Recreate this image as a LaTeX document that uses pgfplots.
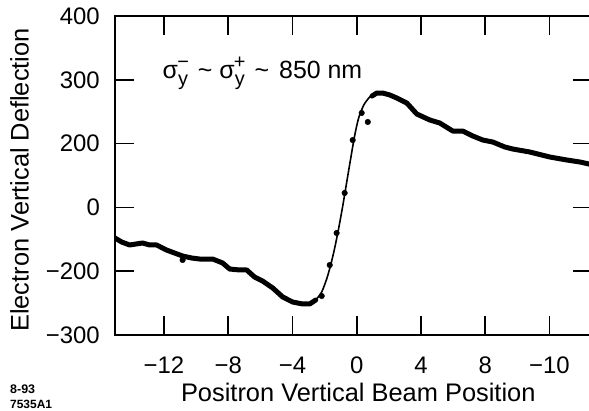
\documentclass[border=0pt]{standalone}
\usepackage{pgfplots}
\pgfplotsset{compat=1.18}
\usepackage{fontspec}
\setmainfont{Liberation Sans}
\newcommand\sy[1]{σ\raisebox{-7bp}{\fontsize{20}{20}\selectfont y}\llap{\raisebox{10bp}{\fontsize{20}{20}\selectfont\makebox[10bp]{#1}}}}
\begin{document}
\begin{tikzpicture}
\begin{axis}[
  scale only axis=true,
  width=477bp, height=319bp,
  xmin=-15.05, xmax=14.65,
  ymin=-100, ymax=400,
  axis line style={line width=1.6bp},
  every tick/.style={black, line width=1.6bp},
  tick align=inside,
  major tick length=19bp,
  xtick={-12,-8,-4,0,4,8,12},
  xticklabels={−12,−8,−4,0,4,8,−10},
  ytick={400,300,200,100,0,-100},
  yticklabels={400,300,200,0,−200,−300},
  xticklabel style={anchor=base, yshift=-38bp, font=\fontsize{24}{26}\selectfont},
  yticklabel style={anchor=east, inner sep=0pt, xshift=-15bp, font=\fontsize{24}{26}\selectfont},
  xlabel={Positron Vertical Beam Position},
  ylabel={Electron Vertical Deflection},
  xlabel style={at={(axis description cs:0.51,-0.21)}, anchor=base, font=\fontsize{25.5}{27}\selectfont},
  ylabel style={at={(axis description cs:-0.2,0.486)}, anchor=center, font=\fontsize{25.5}{27}\selectfont},
]
% data trace, left part
\addplot[black, line width=5bp, line join=round, line cap=round] coordinates {
(-15.05,52.0) (-14.64,45.8) (-14.14,41.1) (-13.33,44.2) (-12.90,41.1) (-12.46,41.1)
(-11.84,33.2) (-11.34,28.5) (-10.84,23.8) (-10.28,20.7) (-9.78,19.1) (-8.97,19.1)
(-8.35,12.9) (-7.91,3.4) (-7.29,1.9) (-6.85,1.9) (-6.36,-9.1) (-5.86,-15.4)
(-5.23,-26.3) (-4.61,-40.4) (-3.99,-48.3) (-3.36,-51.4) (-2.93,-51.4) (-2.55,-45.1)
};
% data trace, right part
\addplot[black, line width=5bp, line join=round, line cap=round] coordinates {
(0.95,274.5) (1.25,279.3) (1.62,279.3) (2.06,276.2) (2.49,271.5) (3.12,263.6)
(3.74,246.4) (4.55,237.0) (5.17,232.3) (5.98,219.7) (6.60,219.7) (7.23,211.9)
(7.85,205.6) (8.47,202.5) (9.22,194.7) (9.72,191.5) (10.78,186.8) (12.02,179.0)
(13.08,174.3) (13.89,171.2) (14.65,167.0)
};
% fitted curve
\addplot[black, line width=1.6bp, smooth, tension=0.4] coordinates {
(-3.36,-51.4) (-2.93,-51.4) (-2.55,-45.1) (-2.18,-32.6) (-1.87,-12.2) (-1.62,9.7)
(-1.37,36.4) (-1.12,67.7) (-0.87,102.2) (-0.62,139.8) (-0.37,177.4) (-0.12,213.5)
(0.12,240.1) (0.44,260.5) (0.81,273.0) (1.25,279.3) (1.62,279.3)
};
% individual points
\addplot[only marks, mark=*, mark size=2.8bp, black] coordinates {
(-10.84,17.6) (-2.18,-38.9) (-1.68,9.7) (-1.25,59.9) (-0.75,122.6)
(-0.25,205.6) (0.31,248.0) (0.69,233.9)
};
\node[anchor=base west, inner sep=0pt, font=\fontsize{25}{27}\selectfont] at (axis cs:-12.09,302.8) {\sy{−}\hspace{3bp} \textasciitilde{} \sy{+}\hspace{3bp} \textasciitilde{}\hspace{3bp} 850 nm};
\coordinate (sw) at (rel axis cs:0,0);
\end{axis}
\node[anchor=base west, inner sep=0pt, font=\fontsize{12.5}{13}\selectfont\bfseries] at ([shift={(-105bp,-58bp)}]sw) {8-93};
\node[anchor=base west, inner sep=0pt, font=\fontsize{12}{13}\selectfont\bfseries] at ([shift={(-105bp,-73bp)}]sw) {7535A1};
\pgfresetboundingbox
\path (sw) ++(-115bp,-76bp) rectangle ++(589bp,411bp);
\end{tikzpicture}
\end{document}
